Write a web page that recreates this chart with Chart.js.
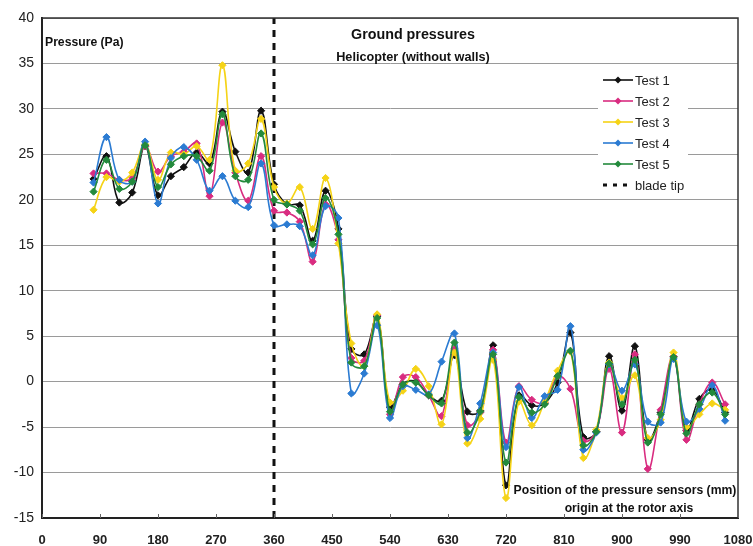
<!DOCTYPE html>
<html>
<head>
<meta charset="utf-8">
<script src="https://cdn.jsdelivr.net/npm/chart.js@4.4.1/dist/chart.umd.min.js"></script>
<style>
  html, body { margin: 0; padding: 0; background: #fff; }
  #wrap { width: 753px; height: 546px; }
</style>
</head>
<body>
<div id="wrap"><canvas id="c" width="753" height="546"></canvas></div>
<script>
// Sensor positions along the ground (mm from rotor axis)
const positions = [80,100,120,140,160,180,200,220,240,260,280,300,320,340,360,380,400,420,440,460,
  480,500,520,540,560,580,600,620,640,660,680,700,720,740,760,780,800,820,840,860,
  880,900,920,940,960,980,1000,1020,1040,1060];

// Ground pressure (Pa) for each test run
const test1 = [22.3,24.8,19.7,20.8,25.9,20.5,22.6,23.6,25.2,24.0,29.7,25.3,23.0,29.8,21.7,19.5,19.4,15.5,21.0,16.8,
  3.6,3.0,7.2,-2.8,-0.3,0.0,-1.5,-2.1,2.9,-3.3,-3.2,4.0,-11.4,-1.5,-2.6,-2.4,-0.1,5.4,-6.1,-5.5,
  2.8,-3.2,3.9,-6.4,-3.4,2.8,-5.4,-1.9,-0.9,-3.4];
const test2 = [22.9,22.9,22.2,22.4,25.9,23.1,24.8,25.3,26.2,20.4,28.5,23.0,19.9,24.8,18.8,18.6,17.6,13.2,19.5,15.6,
  2.6,2.3,7.3,-3.6,0.5,0.5,-1.5,-3.8,3.6,-4.8,-3.4,3.5,-6.7,-0.5,-2.0,-2.3,0.6,-0.8,-6.5,-5.5,
  1.4,-5.6,3.0,-9.6,-3.1,2.8,-6.4,-2.5,-0.1,-2.5];
const test3 = [18.9,22.5,22.0,23.0,26.1,22.2,25.2,25.0,25.9,24.4,34.8,23.2,24.0,28.9,21.4,19.6,21.4,16.8,22.4,15.2,
  4.2,1.7,7.4,-2.3,-1.0,1.4,-0.5,-4.7,3.2,-6.8,-4.1,2.4,-12.8,-2.2,-4.8,-2.2,1.2,3.3,-8.4,-5.3,
  2.1,-1.8,0.7,-6.2,-4.2,3.2,-5.0,-3.6,-2.4,-3.1];
const test4 = [21.9,26.9,22.2,22.0,26.4,19.6,24.6,25.8,24.4,21.0,22.6,19.9,19.2,24.0,17.2,17.3,17.1,13.9,19.3,18.0,
  -1.3,0.9,6.2,-4.0,-0.5,-0.9,-1.4,2.2,5.3,-6.2,-2.4,3.2,-7.2,-0.6,-4.0,-1.6,-0.9,6.1,-7.5,-5.6,
  1.9,-1.0,1.9,-4.4,-4.5,2.5,-4.4,-3.0,-0.4,-4.3];
const test5 = [20.9,24.4,21.2,22.0,26.0,21.4,23.9,24.8,24.8,23.2,29.4,22.6,22.2,27.3,20.0,19.5,18.8,15.1,20.2,16.2,
  2.1,1.7,7.0,-3.3,-0.3,-0.1,-1.5,-2.4,4.3,-5.6,-3.3,3.0,-8.9,-1.7,-3.4,-2.5,0.6,3.4,-7.0,-5.5,
  2.0,-2.5,2.4,-6.7,-3.6,2.7,-5.7,-2.5,-1.2,-3.6];

const seriesNames = ['Test 1','Test 2','Test 3','Test 4','Test 5'];
const seriesColors = ['#111111','#d92c80','#f5d316','#2b7bd2','#238a3c'];
const seriesValues = [test1, test2, test3, test4, test5];

const xTickValues = [0,90,180,270,360,450,540,630,720,810,900,990,1080];
const bladeTipPosition = 360;
const yMin = -15, yMax = 40;

const FONT = '"Liberation Sans", Arial, sans-serif';

const datasets = seriesValues.map((vals, i) => ({
  label: seriesNames[i],
  data: positions.map((p, k) => ({ x: p, y: vals[k] })),
  borderColor: seriesColors[i],
  backgroundColor: seriesColors[i],
  borderWidth: 1.6,
  pointStyle: 'rectRot',
  pointRadius: 3.6,
  pointBorderWidth: 1,
  tension: 0.4,
  order: 5 - i
}));

datasets.push({
  label: 'blade tip',
  data: [{ x: bladeTipPosition, y: yMin }, { x: bladeTipPosition, y: yMax }],
  borderColor: '#111',
  borderWidth: 3,
  borderDash: [7, 6],
  pointRadius: 0,
  tension: 0,
  order: 10
});

// Frame around plot area plus small inward tick marks on the x axis
const framePlugin = {
  id: 'frame',
  afterDraw(chart) {
    const { ctx, chartArea: a, scales } = chart;
    ctx.save();
    ctx.strokeStyle = '#333';
    ctx.lineWidth = 1.5;
    ctx.beginPath();
    ctx.moveTo(a.left, a.top); ctx.lineTo(a.right, a.top); ctx.lineTo(a.right, a.bottom);
    ctx.stroke();
    ctx.strokeStyle = '#666';
    ctx.lineWidth = 1;
    xTickValues.forEach(v => {
      const px = Math.round(scales.x.getPixelForValue(v)) + 0.5;
      ctx.beginPath(); ctx.moveTo(px, a.bottom - 4); ctx.lineTo(px, a.bottom); ctx.stroke();
    });
    ctx.restore();
  }
};

// Titles and axis captions
const textPlugin = {
  id: 'texts',
  afterDraw(chart) {
    const { ctx } = chart;
    ctx.save();
    ctx.fillStyle = '#111';
    ctx.textBaseline = 'middle';
    ctx.textAlign = 'center';
    ctx.font = 'bold 14.3px ' + FONT;
    ctx.fillText('Ground pressures', 413, 35);
    ctx.font = 'bold 12.7px ' + FONT;
    ctx.fillText('Helicopter (without walls)', 413, 57);
    ctx.font = 'bold 12.2px ' + FONT;
    ctx.textAlign = 'left';
    ctx.fillText('Pressure (Pa)', 45, 43);
    ctx.textAlign = 'center';
    ctx.fillText('Position of the pressure sensors (mm)', 625, 491);
    ctx.fillText('origin at the rotor axis', 629, 509);
    ctx.restore();
  }
};

// Legend box drawn inside the plot area
const legendPlugin = {
  id: 'boxLegend',
  afterDatasetsDraw(chart) {
    const { ctx } = chart;
    ctx.save();
    ctx.fillStyle = '#fff';
    ctx.fillRect(598, 68, 90, 128);
    const rows = [80, 101, 122, 143, 164, 185];
    ctx.font = '13px ' + FONT;
    ctx.textBaseline = 'middle';
    ctx.textAlign = 'left';
    seriesNames.forEach((name, i) => {
      const y = rows[i];
      ctx.strokeStyle = seriesColors[i];
      ctx.lineWidth = 1.6;
      ctx.beginPath(); ctx.moveTo(603, y); ctx.lineTo(633, y); ctx.stroke();
      ctx.fillStyle = seriesColors[i];
      ctx.beginPath();
      ctx.moveTo(618, y - 3.5); ctx.lineTo(621.5, y); ctx.lineTo(618, y + 3.5); ctx.lineTo(614.5, y);
      ctx.closePath(); ctx.fill();
      ctx.fillStyle = '#222';
      ctx.fillText(name, 635, y + 1);
    });
    const yb = rows[5];
    ctx.strokeStyle = '#111';
    ctx.lineWidth = 3;
    ctx.setLineDash([4, 6]);
    ctx.beginPath(); ctx.moveTo(603, yb); ctx.lineTo(633, yb); ctx.stroke();
    ctx.setLineDash([]);
    ctx.fillStyle = '#222';
    ctx.fillText('blade tip', 635, yb + 1);
    ctx.restore();
  }
};

new Chart(document.getElementById('c'), {
  type: 'line',
  data: { datasets },
  options: {
    responsive: false,
    animation: false,
    devicePixelRatio: 1,
    layout: { padding: { top: 18, right: 15, left: 0, bottom: 0 } },
    plugins: { legend: { display: false }, tooltip: { enabled: false } },
    scales: {
      x: {
        type: 'linear',
        min: 0, max: 1080,
        afterBuildTicks: s => { s.ticks = xTickValues.map(v => ({ value: v })); },
        afterFit: s => { s.height = 28; s.paddingLeft = 0; s.paddingRight = 0; },
        grid: { display: false, drawTicks: false },
        border: { display: true, color: '#222', width: 2 },
        ticks: {
          color: '#222', font: { family: FONT, size: 13, weight: 'bold' }, padding: 15,
          maxRotation: 0, autoSkip: false, callback: v => String(v)
        }
      },
      y: {
        min: yMin, max: yMax,
        afterFit: s => { s.width = 42; s.paddingTop = 0; s.paddingBottom = 0; },
        grid: { color: '#9a9a9a', lineWidth: 1, drawTicks: false },
        border: { display: true, color: '#222', width: 2 },
        ticks: { stepSize: 5, color: '#222', font: { family: FONT, size: 14 }, padding: 8 }
      }
    }
  },
  plugins: [framePlugin, textPlugin, legendPlugin]
});
</script>
</body>
</html>
